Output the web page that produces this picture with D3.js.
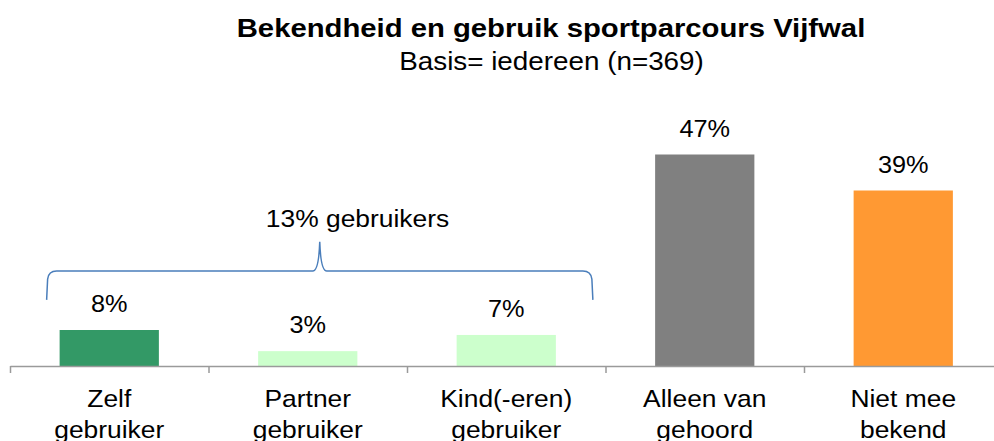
<!DOCTYPE html>
<html>
<head>
<meta charset="utf-8">
<script src="https://cdn.jsdelivr.net/npm/d3@7"></script>
<style>
  body { margin: 0; background: #fff; }
  text { font-family: "Liberation Sans", Arial, sans-serif; fill: #000; }
</style>
</head>
<body>
<div id="chart"></div>
<script>
// data
var categories = [["Zelf", "gebruiker"], ["Partner", "gebruiker"], ["Kind(-eren)", "gebruiker"], ["Alleen van", "gehoord"], ["Niet mee", "bekend"]];
var values = [8, 3.3, 6.9, 47, 39];
var colors = ["#339966", "#ccffcc", "#ccffcc", "#808080", "#ff9933"];
var groupLabel = "13% gebruikers";
var title = "Bekendheid en gebruik sportparcours Vijfwal";
var subtitle = "Basis= iedereen (n=369)";

function main() {
    var width = 994, height = 441;
    var sx = 1.1; // text in the original is a bit wider than it is tall

    var svg = d3.select("#chart").append("svg")
        .attr("width", width)
        .attr("height", height);

    var keys = categories.map(function (d, i) { return i; });

    var x = d3.scaleBand()
        .domain(keys)
        .range([10, 1002.5])
        .paddingInner(0.5)
        .paddingOuter(0.25);

    var y = d3.scaleLinear()
        .domain([0, 50])
        .range([366, 141]);

    // helper for stretched text
    function label(g, tx, ty, str, size, weight) {
        return g.append("text")
            .attr("transform", "translate(" + tx + "," + ty + ") scale(" + sx + ",1)")
            .attr("text-anchor", "middle")
            .attr("font-size", size + "px")
            .attr("font-weight", weight || "normal")
            .text(str);
    }

    // title
    label(svg, 551, 37, title, 26.6, "bold");
    label(svg, 551.5, 70, subtitle, 25.3);

    // bars
    svg.append("g")
        .selectAll("rect")
        .data(values)
        .join("rect")
        .attr("x", function (d, i) { return x(i); })
        .attr("y", function (d) { return y(d); })
        .attr("width", x.bandwidth())
        .attr("height", function (d) { return y(0) - y(d); })
        .attr("fill", function (d, i) { return colors[i]; });

    // value labels
    var fmt = d3.format(".0f");
    var vg = svg.append("g");
    values.forEach(function (d, i) {
        label(vg, x(i) + x.bandwidth() / 2, y(d) - 18, fmt(d) + "%", 23);
    });

    // axis line with ticks on category boundaries
    var step = x.step();
    var r0 = x.range()[0];
    var axis = d3.axisBottom(d3.scaleLinear().domain([0, keys.length]).range([r0, r0 + step * keys.length]))
        .tickValues(d3.range(keys.length + 1))
        .tickSizeInner(7)
        .tickSizeOuter(0)
        .tickFormat("");
    var ax = svg.append("g")
        .attr("transform", "translate(0," + y(0) + ")")
        .call(axis);
    ax.select(".domain").attr("stroke", "#9a9a9a").attr("stroke-width", 1.5);
    ax.selectAll(".tick line").attr("stroke", "#9a9a9a").attr("stroke-width", 1.5);

    // category labels
    var cg = svg.append("g");
    categories.forEach(function (lines, i) {
        lines.forEach(function (s, j) {
            label(cg, x(i) + x.bandwidth() / 2, y(0) + 41 + j * 31, s, 24);
        });
    });

    // curly brace over the user groups
    var bl = x(0) - 13, br = x(2) + x.bandwidth() + 37, bm = (bl + br) / 2;
    var yb = y(14.7), yh = y(21.1), yt = y(27.6);
    var path = d3.path();
    path.moveTo(bl, yb);
    path.lineTo(bl + 1, yh + 8);
    path.quadraticCurveTo(bl + 2, yh, bl + 10, yh);
    path.lineTo(bm - 7, yh);
    path.quadraticCurveTo(bm - 1, yh, bm, yt);
    path.quadraticCurveTo(bm + 1, yh, bm + 7, yh);
    path.lineTo(br - 10, yh);
    path.quadraticCurveTo(br - 2, yh, br - 1, yh + 8);
    path.lineTo(br, yb);
    svg.append("path")
        .attr("d", path.toString())
        .attr("fill", "none")
        .attr("stroke", "#4a7ebb")
        .attr("stroke-width", 1.5);

    label(svg, 357.5, y(30.9), groupLabel, 24);
}

main();
</script>
</body>
</html>
